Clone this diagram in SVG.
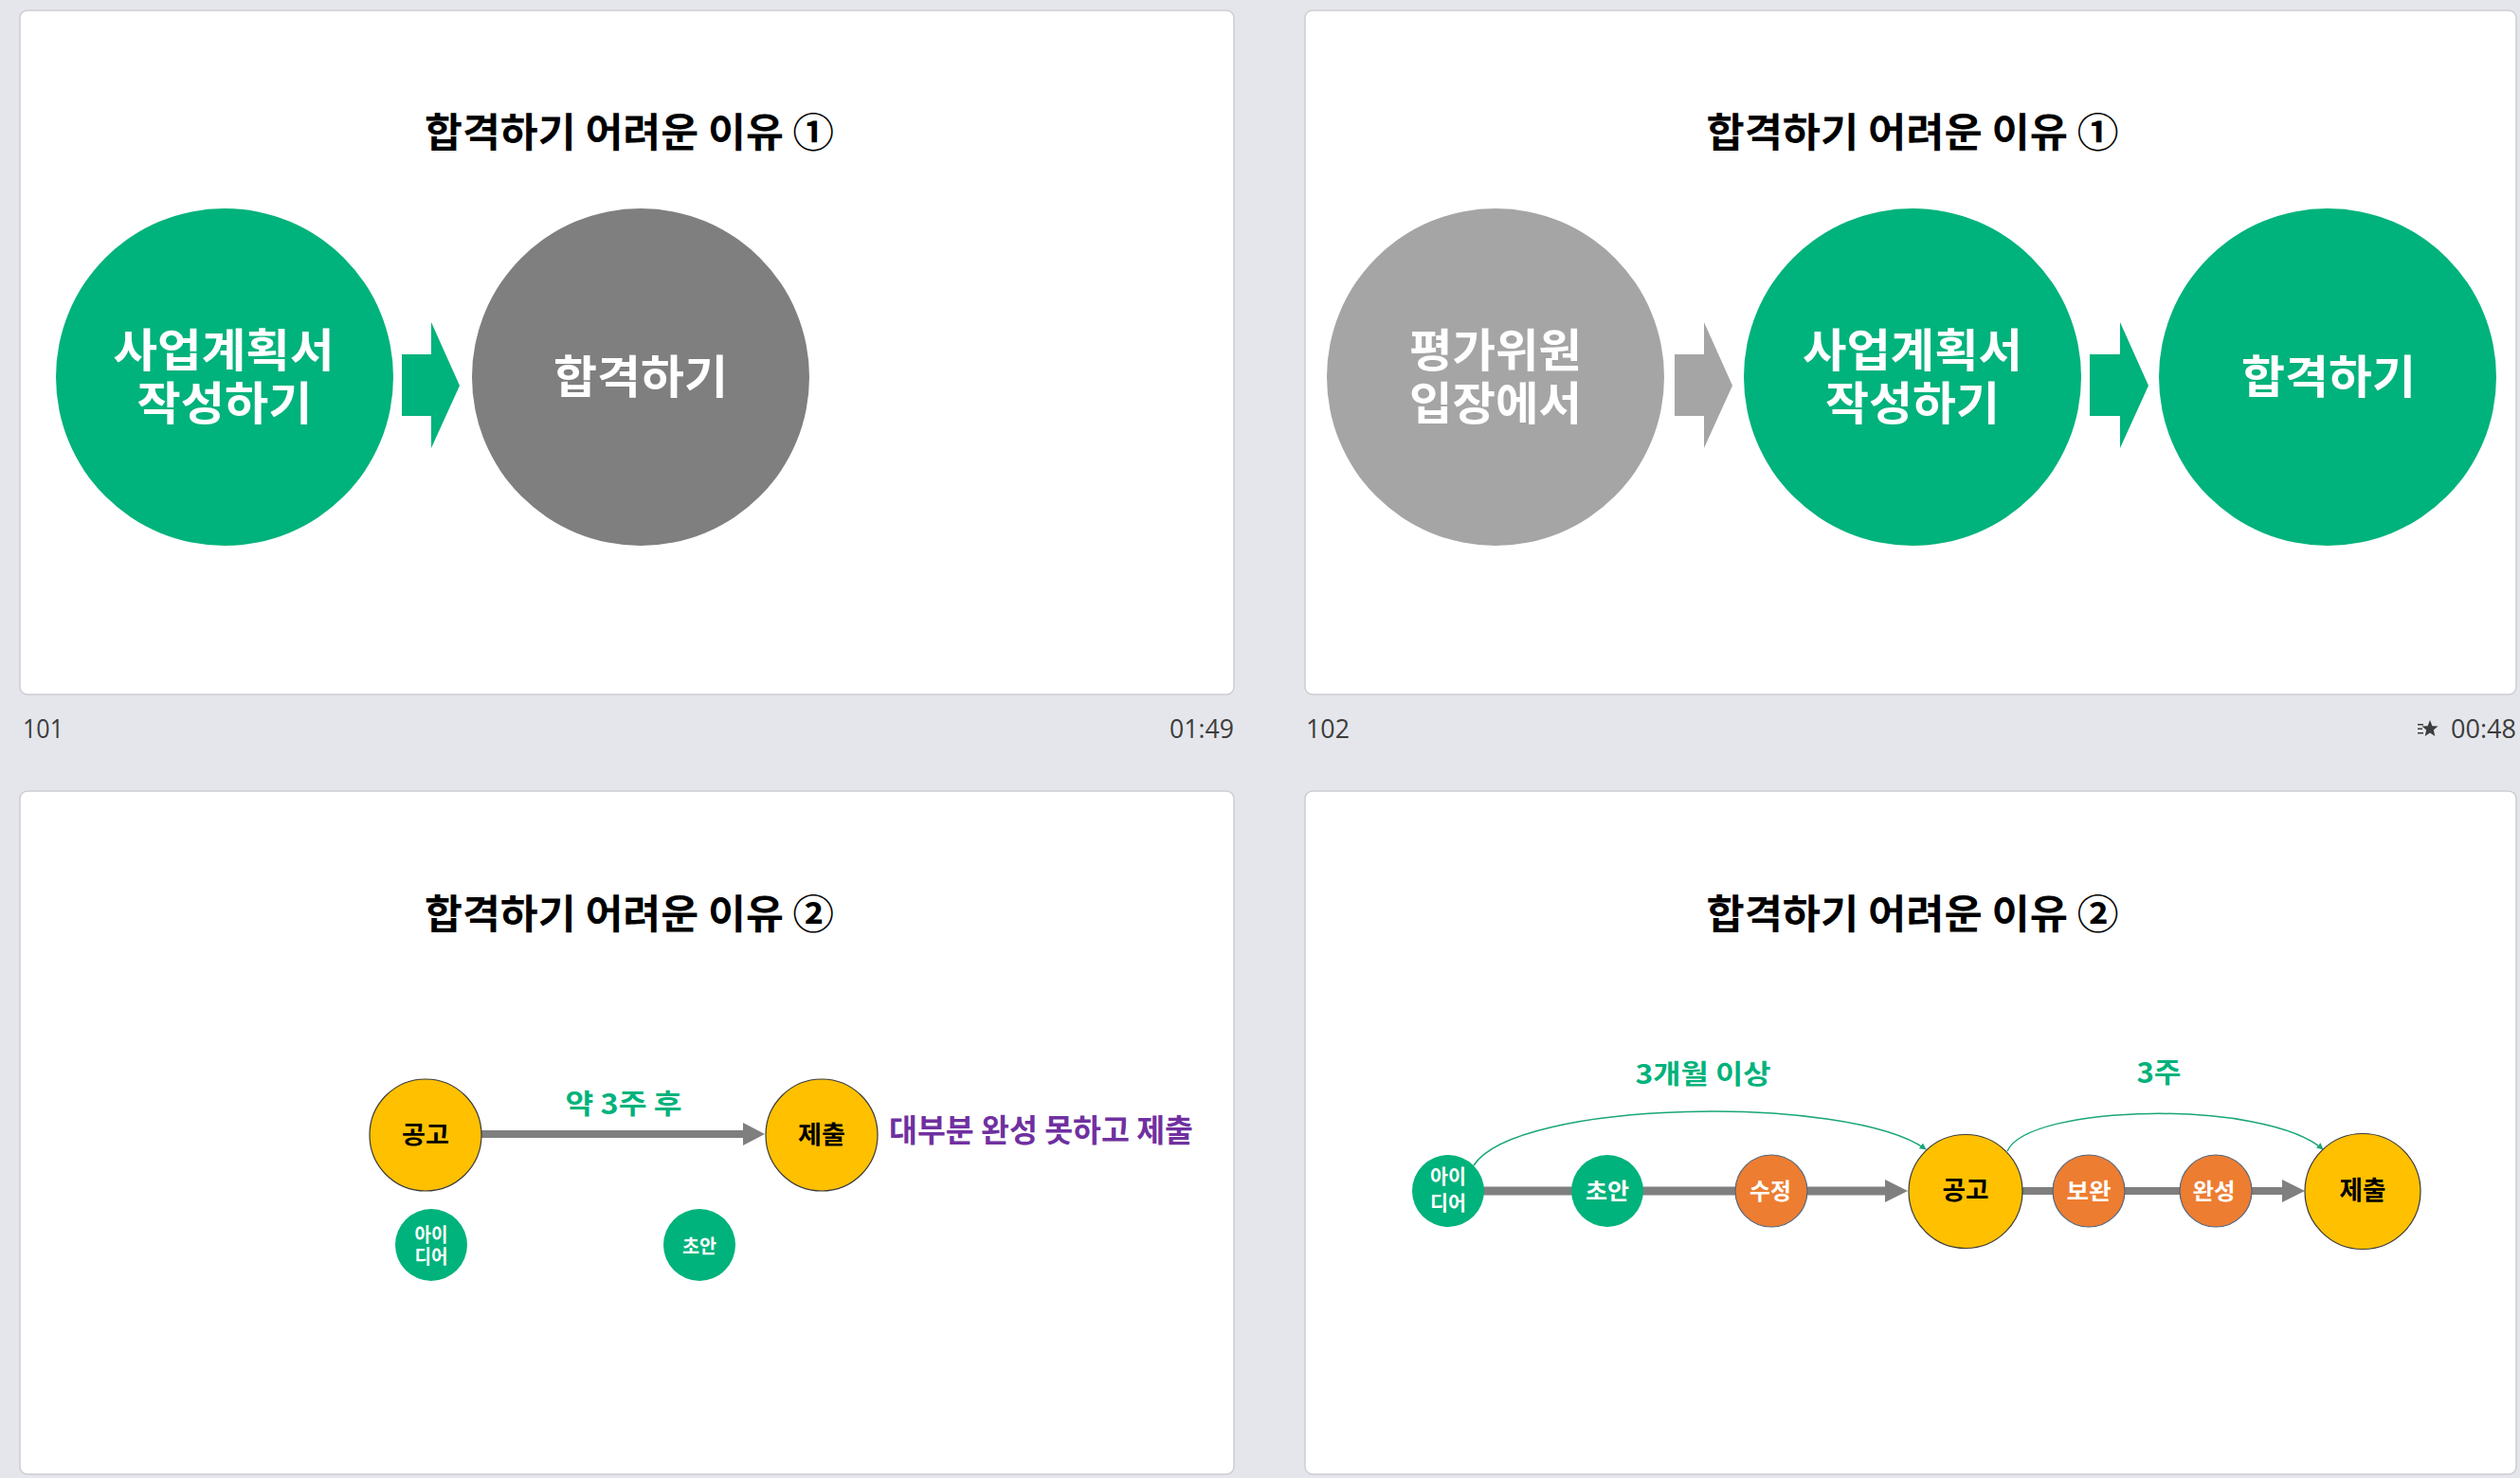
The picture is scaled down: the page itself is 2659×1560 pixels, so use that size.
<svg xmlns="http://www.w3.org/2000/svg" width="2659" height="1560" viewBox="0 0 2659 1560">
<style>
.frame{fill:#ffffff;stroke:#cdcdd2;stroke-width:1.5}
.kr{font-family:"Noto Sans CJK KR","Noto Sans",sans-serif;font-weight:700;text-anchor:middle}
.title{font-size:42px;fill:#000}
.big{font-size:48px;fill:#ffffff}
.foot{font-family:"Open Sans","Noto Sans",sans-serif;font-size:28px;fill:#3c3c3c}
.green{fill:#00b27b}
.dgray{fill:#7f7f7f}
.lgray{fill:#a5a5a5}
.yel{fill:#ffc000;stroke:#3a3a3a;stroke-width:1.2}
.org{fill:#ed7d31;stroke:#56657a;stroke-width:1.2}
.wt{fill:#ffffff}
.bk{fill:#000000}
.gtxt{fill:#00b27b}
.ptxt{fill:#7030a0}
.curve{fill:none;stroke:#1aa57a;stroke-width:1.5;marker-end:url(#ah)}
</style>
<defs>
<marker id="ah" viewBox="0 0 10 10" refX="9" refY="5" markerWidth="7" markerHeight="7" markerUnits="userSpaceOnUse" orient="auto">
<path d="M0,0 L10,5 L0,10 z" fill="#1aa57a"/>
</marker>
</defs>
<rect width="2659" height="1560" fill="#e5e6eb"/>

<!-- Slide frames -->
<g id="slide-frames">
<rect class="frame" x="21" y="11" width="1281" height="722" rx="8"/>
<rect class="frame" x="1377" y="11" width="1278" height="722" rx="8"/>
<rect class="frame" x="21" y="835" width="1281" height="721" rx="8"/>
<rect class="frame" x="1377" y="835" width="1278" height="721" rx="8"/>
</g>

<!-- Footers -->
<g id="footers">
<text class="foot" x="24" y="779" textLength="43" lengthAdjust="spacingAndGlyphs">101</text>
<text class="foot" x="1302" y="779" text-anchor="end" textLength="68" lengthAdjust="spacingAndGlyphs">01:49</text>
<text class="foot" x="1378" y="779" textLength="46" lengthAdjust="spacingAndGlyphs">102</text>
<text class="foot" x="2655" y="779" text-anchor="end" textLength="69" lengthAdjust="spacingAndGlyphs">00:48</text>
<g id="star-icon" fill="#3c3c3c">
<polygon points="2564,760 2566.4,766.2 2572.5,766.6 2567.8,770.6 2569.3,777 2564,773.4 2558.7,777 2560.2,770.6 2555.5,766.6 2561.6,766.2"/>
<rect x="2551" y="764" width="6" height="1.5"/>
<rect x="2551" y="768.5" width="5" height="1.5"/>
<rect x="2551" y="773" width="6" height="1.5"/>
</g>
</g>

<!-- Slide 101 -->
<text class="kr title" x="664" y="155" textLength="432" lengthAdjust="spacingAndGlyphs">합격하기 어려운 이유 ①</text>
<g id="s1-plan">
<circle class="green" cx="237" cy="398" r="178"/>
<text class="kr big"><tspan x="236" y="387" textLength="233" lengthAdjust="spacingAndGlyphs">사업계획서</tspan><tspan x="237" y="443" textLength="185" lengthAdjust="spacingAndGlyphs">작성하기</tspan></text>
</g>
<g id="s1-pass">
<circle class="dgray" cx="676" cy="398" r="178"/>
<text class="kr big" x="676" y="415" textLength="184" lengthAdjust="spacingAndGlyphs">합격하기</text>
</g>

<!-- Slide 102 -->
<text class="kr title" x="2018" y="155" textLength="435" lengthAdjust="spacingAndGlyphs">합격하기 어려운 이유 ①</text>
<g id="s2-judge">
<circle class="lgray" cx="1578" cy="398" r="178"/>
<text class="kr big"><tspan x="1578" y="387" textLength="182" lengthAdjust="spacingAndGlyphs">평가위원</tspan><tspan x="1578" y="443" textLength="182" lengthAdjust="spacingAndGlyphs">입장에서</tspan></text>
</g>
<g id="s2-plan">
<circle class="green" cx="2018" cy="398" r="178"/>
<text class="kr big"><tspan x="2018" y="387" textLength="232" lengthAdjust="spacingAndGlyphs">사업계획서</tspan><tspan x="2018" y="443" textLength="184" lengthAdjust="spacingAndGlyphs">작성하기</tspan></text>
</g>
<g id="s2-pass">
<circle class="green" cx="2456" cy="398" r="178"/>
<text class="kr big" x="2457" y="415" textLength="184" lengthAdjust="spacingAndGlyphs">합격하기</text>
</g>

<!-- Slide 103 -->
<text class="kr title" x="664" y="980" textLength="432" lengthAdjust="spacingAndGlyphs">합격하기 어려운 이유 ②</text>
<text class="kr gtxt" x="658" y="1176" font-size="29" textLength="123" lengthAdjust="spacingAndGlyphs">약 3주 후</text>
<text class="kr ptxt" x="938" y="1205" font-size="33" style="text-anchor:start" textLength="321" lengthAdjust="spacingAndGlyphs">대부분 완성 못하고 제출</text>

<!-- Slide 104 -->
<text class="kr title" x="2018" y="980" textLength="435" lengthAdjust="spacingAndGlyphs">합격하기 어려운 이유 ②</text>
<text class="kr gtxt" x="1797" y="1144" font-size="28" textLength="143" lengthAdjust="spacingAndGlyphs">3개월 이상</text>
<text class="kr gtxt" x="2278" y="1143" font-size="29" textLength="47" lengthAdjust="spacingAndGlyphs">3주</text>

<!-- Connectors -->
<g id="connectors">
<path d="M508,1193 L784,1193 L784,1185 L807,1197 L784,1209 L784,1201 L508,1201 z" fill="#7f7f7f"/>
<path d="M1560,1252.5 L1989,1252.5 L1989,1245 L2013,1257 L1989,1269 L1989,1261.5 L1560,1261.5 z" fill="#7f7f7f"/>
<path d="M2130,1253 L2408,1253 L2408,1245 L2432,1257 L2408,1269 L2408,1261 L2130,1261 z" fill="#7f7f7f"/>
<path d="M424,374 L455,374 L455,340 L485,407 L455,473 L455,439 L424,439 z" fill="#00b27b"/>
<path d="M1767,374 L1798,374 L1798,340 L1828,407 L1798,473 L1798,439 L1767,439 z" fill="#a5a5a5"/>
<path d="M2205,374 L2237,374 L2237,340 L2267,407 L2237,473 L2237,439 L2205,439 z" fill="#00b27b"/>
<path class="curve" d="M1555,1230 C1600,1160 1950,1155 2032,1213"/>
<path class="curve" d="M2118,1215 C2140,1165 2390,1160 2451,1213"/>
</g>

<!-- Slide 103 nodes -->
<g id="s3-gonggo">
<circle class="yel" cx="449" cy="1198" r="59"/>
<text class="kr bk" x="449" y="1207" font-size="26" textLength="50" lengthAdjust="spacingAndGlyphs">공고</text>
</g>
<g id="s3-submit">
<circle class="yel" cx="867" cy="1198" r="59"/>
<text class="kr bk" x="867" y="1207" font-size="26" textLength="50" lengthAdjust="spacingAndGlyphs">제출</text>
</g>
<g id="s3-idea">
<circle class="green" cx="455" cy="1314" r="38"/>
<text class="kr wt" font-size="20"><tspan x="455" y="1311" textLength="35" lengthAdjust="spacingAndGlyphs">아이</tspan><tspan x="455" y="1334" textLength="35" lengthAdjust="spacingAndGlyphs">디어</tspan></text>
</g>
<g id="s3-draft">
<circle class="green" cx="738" cy="1314" r="38"/>
<text class="kr wt" x="738" y="1323" font-size="20" textLength="36" lengthAdjust="spacingAndGlyphs">초안</text>
</g>

<!-- Slide 104 nodes -->
<g id="s4-idea">
<circle class="green" cx="1528" cy="1257" r="38"/>
<text class="kr wt" font-size="21"><tspan x="1528" y="1249" textLength="38" lengthAdjust="spacingAndGlyphs">아이</tspan><tspan x="1528" y="1277" textLength="38" lengthAdjust="spacingAndGlyphs">디어</tspan></text>
</g>
<g id="s4-draft">
<circle class="green" cx="1696" cy="1257" r="38"/>
<text class="kr wt" x="1696" y="1266" font-size="24" textLength="46" lengthAdjust="spacingAndGlyphs">초안</text>
</g>
<g id="s4-revise">
<circle class="org" cx="1869" cy="1257" r="38"/>
<text class="kr wt" x="1868" y="1266" font-size="24" textLength="44" lengthAdjust="spacingAndGlyphs">수정</text>
</g>
<g id="s4-gonggo">
<circle class="yel" cx="2074" cy="1257.5" r="60"/>
<text class="kr bk" x="2074" y="1266" font-size="27" textLength="49" lengthAdjust="spacingAndGlyphs">공고</text>
</g>
<g id="s4-supplement">
<circle class="org" cx="2204" cy="1257" r="38"/>
<text class="kr wt" x="2204" y="1266" font-size="24" textLength="47" lengthAdjust="spacingAndGlyphs">보완</text>
</g>
<g id="s4-complete">
<circle class="org" cx="2338" cy="1257" r="38"/>
<text class="kr wt" x="2336" y="1266" font-size="24" textLength="45" lengthAdjust="spacingAndGlyphs">완성</text>
</g>
<g id="s4-submit">
<circle class="yel" cx="2493" cy="1257.5" r="61"/>
<text class="kr bk" x="2493" y="1266" font-size="27" textLength="49" lengthAdjust="spacingAndGlyphs">제출</text>
</g>
</svg>
